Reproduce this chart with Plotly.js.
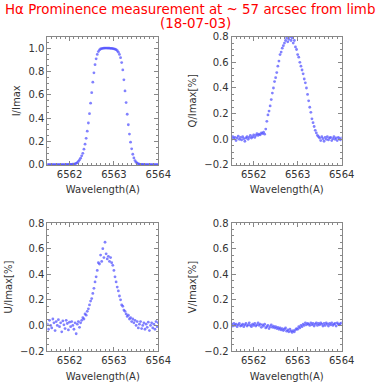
<!DOCTYPE html>
<html>
<head>
<meta charset="utf-8">
<script src="https://cdn.plot.ly/plotly-3.0.1.min.js"></script>
<style>
  body { margin: 0; background: #fff; }
  #chart { width: 390px; height: 390px; }
</style>
</head>
<body>
<div id="chart"></div>
<script>
// wavelength samples (A)
var wavelength = [
  6561.500, 6561.525, 6561.550, 6561.575, 6561.600, 6561.625, 6561.650, 6561.675, 6561.700, 6561.725,
  6561.750, 6561.775, 6561.800, 6561.825, 6561.850, 6561.875, 6561.900, 6561.925, 6561.950, 6561.975,
  6562.000, 6562.025, 6562.050, 6562.075, 6562.100, 6562.125, 6562.150, 6562.175, 6562.200, 6562.225,
  6562.250, 6562.275, 6562.300, 6562.325, 6562.350, 6562.375, 6562.400, 6562.425, 6562.450, 6562.475,
  6562.500, 6562.525, 6562.550, 6562.575, 6562.600, 6562.625, 6562.650, 6562.675, 6562.700, 6562.725,
  6562.750, 6562.775, 6562.800, 6562.825, 6562.850, 6562.875, 6562.900, 6562.925, 6562.950, 6562.975,
  6563.000, 6563.025, 6563.050, 6563.075, 6563.100, 6563.125, 6563.150, 6563.175, 6563.200, 6563.225,
  6563.250, 6563.275, 6563.300, 6563.325, 6563.350, 6563.375, 6563.400, 6563.425, 6563.450, 6563.475,
  6563.500, 6563.525, 6563.550, 6563.575, 6563.600, 6563.625, 6563.650, 6563.675, 6563.700, 6563.725,
  6563.750, 6563.775, 6563.800, 6563.825, 6563.850, 6563.875, 6563.900, 6563.925, 6563.950, 6563.975,
  6564.000
];

var stokesI = [
  0.003, 0.002, 0.003, 0.002, 0.002, 0.003, 0.002, 0.002, 0.002, 0.003,
  0.002, 0.002, 0.003, 0.003, 0.002, 0.003, 0.003, 0.004, 0.003, 0.004,
  0.004, 0.005, 0.005, 0.006, 0.008, 0.010, 0.014, 0.020, 0.030, 0.043,
  0.058, 0.078, 0.100, 0.135, 0.178, 0.228, 0.290, 0.360, 0.440, 0.530,
  0.620, 0.710, 0.790, 0.860, 0.910, 0.948, 0.972, 0.986, 0.994, 0.998,
  1.000, 1.001, 1.002, 1.002, 1.002, 1.001, 1.001, 1.000, 0.999, 0.998,
  0.996, 0.993, 0.988, 0.980, 0.967, 0.948, 0.920, 0.878, 0.815, 0.730,
  0.635, 0.535, 0.435, 0.345, 0.265, 0.195, 0.138, 0.092, 0.060, 0.038,
  0.024, 0.015, 0.010, 0.007, 0.005, 0.004, 0.004, 0.003, 0.003, 0.003,
  0.002, 0.003, 0.002, 0.002, 0.003, 0.002, 0.002, 0.003, 0.002, 0.002,
  0.002
];

var stokesQ = [
  0.000, 0.020, 0.005, 0.015, -0.010, 0.010, 0.025, 0.000, 0.015, -0.005,
  0.020, 0.005, -0.015, 0.010, 0.020, 0.000, 0.015, 0.030, 0.010, 0.020,
  0.035, 0.015, 0.030, 0.045, 0.030, 0.040, 0.035, 0.050, 0.045, 0.055,
  0.040, 0.080, 0.140, 0.190, 0.220, 0.260, 0.310, 0.360, 0.400, 0.450,
  0.480, 0.520, 0.570, 0.610, 0.660, 0.680, 0.710, 0.730, 0.750, 0.770,
  0.790, 0.760, 0.780, 0.800, 0.770, 0.790, 0.750, 0.770, 0.720, 0.700,
  0.660, 0.640, 0.600, 0.570, 0.540, 0.510, 0.470, 0.440, 0.400, 0.350,
  0.300, 0.250, 0.210, 0.160, 0.130, 0.100, 0.070, 0.050, 0.030, 0.020,
  0.010, -0.010, 0.020, 0.005, -0.015, 0.015, 0.000, 0.020, -0.005, 0.010,
  0.015, -0.010, 0.005, 0.020, 0.000, 0.010, -0.010, 0.015, 0.005, -0.005,
  0.010
];

var stokesU = [
  0.010, -0.030, 0.040, 0.000, -0.020, 0.050, 0.020, -0.040, 0.030, 0.000,
  0.045, -0.010, 0.020, -0.050, 0.035, 0.005, -0.025, 0.040, 0.015, -0.035,
  0.025, -0.010, 0.030, 0.000, -0.030, 0.020, -0.065, 0.010, 0.030, -0.015,
  0.020, 0.040, 0.060, 0.050, 0.090, 0.080, 0.110, 0.130, 0.160, 0.190,
  0.210, 0.250, 0.290, 0.340, 0.380, 0.430, 0.490, 0.480, 0.550, 0.500,
  0.600, 0.530, 0.650, 0.560, 0.520, 0.540, 0.500, 0.530, 0.490, 0.470,
  0.430, 0.380, 0.340, 0.300, 0.270, 0.230, 0.200, 0.160, 0.150, 0.120,
  0.110, 0.090, 0.070, 0.080, 0.050, 0.060, 0.030, 0.050, 0.020, 0.040,
  0.000, 0.030, -0.020, 0.010, 0.030, -0.025, 0.000, 0.020, -0.030, 0.010,
  -0.015, 0.025, -0.040, 0.000, 0.020, -0.020, 0.010, -0.030, 0.030, -0.010,
  0.020
];

var stokesV = [
  0.010, -0.005, 0.015, 0.000, 0.010, -0.010, 0.005, 0.015, -0.005, 0.000,
  0.010, -0.010, 0.005, 0.015, -0.005, 0.005, 0.020, 0.000, -0.010, 0.010,
  0.000, 0.015, -0.005, 0.005, 0.020, 0.000, 0.010, -0.015, 0.005, -0.005,
  0.010, -0.020, -0.010, 0.000, -0.025, -0.010, 0.005, -0.015, -0.005, -0.020,
  -0.010, -0.025, -0.015, -0.030, -0.020, -0.035, -0.025, -0.040, -0.030, -0.020,
  -0.045, -0.035, -0.050, -0.030, -0.045, -0.055, -0.040, -0.050, -0.035, -0.025,
  -0.030, -0.010, -0.020, 0.000, -0.010, 0.010, 0.000, 0.020, 0.005, 0.015,
  0.010, 0.000, 0.020, 0.005, 0.015, -0.005, 0.010, 0.020, 0.000, 0.015,
  0.005, 0.020, 0.010, -0.005, 0.015, 0.000, 0.020, 0.010, -0.005, 0.015,
  0.005, 0.020, 0.000, 0.010, 0.015, -0.005, 0.020, 0.010, 0.005, 0.015,
  0.020
];

var yTitles = ['I/Imax', 'Q/Imax[%]', 'U/Imax[%]', 'V/Imax[%]'];
var xTitle = 'Wavelength(A)';
var titleLines = ['H\u03b1 Prominence measurement at ~ 57 arcsec from limb', '(18-07-03)'];

var series = [stokesI, stokesQ, stokesU, stokesV];
var axisIds = ['', '2', '3', '4'];

var data = series.map(function(s, i) {
  return {
    x: wavelength,
    y: s,
    xaxis: 'x' + axisIds[i],
    yaxis: 'y' + axisIds[i],
    type: 'scatter',
    mode: 'markers',
    marker: {size: 2.8, color: 'rgba(80,80,255,0.72)', symbol: 'circle'},
    showlegend: false,
    hoverinfo: 'x+y'
  };
});

var tickFont = {family: 'DejaVu Sans', size: 10, color: '#333'};

function xax(dom, anchor) {
  return {
    domain: dom, anchor: anchor, range: [6561.5, 6564],
    tickvals: [6562, 6563, 6564], ticks: 'inside', ticklen: 4,
    tickcolor: '#888', linecolor: '#888', linewidth: 1, mirror: 'ticks',
    showgrid: false, zeroline: false, tickfont: tickFont,
    minor: {dtick: 0.1, ticks: 'inside', ticklen: 2, tickcolor: '#888', showgrid: false},
    title: {text: xTitle, font: tickFont, standoff: 7}
  };
}
function yax(dom, anchor, rng, title) {
  return {
    domain: dom, anchor: anchor, range: rng, dtick: 0.2, tickformat: '.1f',
    ticks: 'inside', ticklen: 4, tickcolor: '#888', linecolor: '#888', linewidth: 1,
    mirror: 'ticks', showgrid: false, zeroline: false, tickfont: tickFont,
    minor: {dtick: 0.05, ticks: 'inside', ticklen: 2, tickcolor: '#888', showgrid: false},
    title: {text: title, font: tickFont, standoff: 5}
  };
}

var topY = [0.577, 0.906], botY = [0.100, 0.428];
var leftX = [0.1213, 0.4059], rightX = [0.594, 0.876];

var titleFont = {family: 'DejaVu Sans', size: 13.4, color: '#ff0000'};

var layout = {
  width: 390, height: 390,
  margin: {l: 0, r: 0, t: 0, b: 0},
  paper_bgcolor: '#fff', plot_bgcolor: '#fff',
  annotations: [
    {text: titleLines[0], xref: 'paper', yref: 'paper', x: 0.487, y: 0.999,
     xanchor: 'center', yanchor: 'top', showarrow: false, font: titleFont},
    {text: titleLines[1], xref: 'paper', yref: 'paper', x: 0.5, y: 0.963,
     xanchor: 'center', yanchor: 'top', showarrow: false, font: titleFont}
  ],
  xaxis: xax(leftX, 'y'),
  yaxis: yax(topY, 'x', [0, 1.1], yTitles[0]),
  xaxis2: xax(rightX, 'y2'),
  yaxis2: yax(topY, 'x2', [-0.2, 0.8], yTitles[1]),
  xaxis3: xax(leftX, 'y3'),
  yaxis3: yax(botY, 'x3', [-0.2, 0.8], yTitles[2]),
  xaxis4: xax(rightX, 'y4'),
  yaxis4: yax(botY, 'x4', [-0.2, 0.8], yTitles[3])
};

Plotly.newPlot('chart', data, layout, {displayModeBar: false, staticPlot: true});
</script>
</body>
</html>
